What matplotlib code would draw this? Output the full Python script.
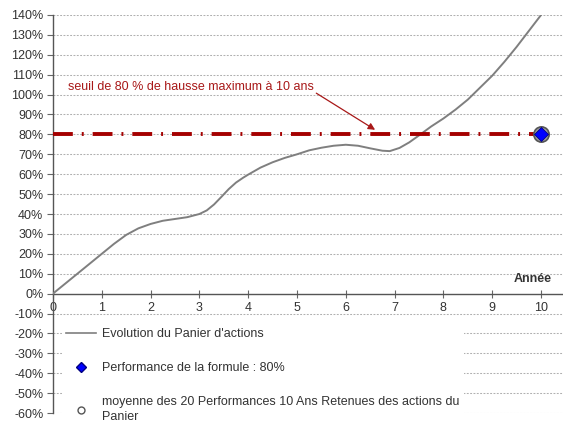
import matplotlib
matplotlib.use("Agg")
import matplotlib.pyplot as plt
from matplotlib.ticker import FuncFormatter
from matplotlib.lines import Line2D

plt.rcParams['font.family'] = ['Liberation Sans', 'DejaVu Sans']

# Data
years = [0, 0.5, 1, 1.25, 1.5, 1.75, 2, 2.25, 2.5, 2.75, 3, 3.15, 3.3, 3.45, 3.6,
         3.75, 3.9, 4, 4.25, 4.5, 4.75, 5, 5.25, 5.5, 5.75, 6, 6.25, 6.5, 6.75,
         6.9, 7.1, 7.3, 7.5, 7.75, 8, 8.25, 8.5, 8.75, 9, 9.25, 9.5, 9.75, 10]
panier = [0, 10, 20, 25, 29.5, 32.8, 35, 36.6, 37.5, 38.4, 40, 41.8, 44.8, 48.6, 52.5,
          55.8, 58.3, 59.8, 63.3, 66, 68.2, 70, 72, 73.3, 74.3, 74.8, 74.3, 73, 71.8,
          71.6, 73.2, 76, 79.5, 84, 88, 92.5, 97.5, 103.5, 109.5, 116.5, 124, 132, 140]
seuil_x = [0, 10]
seuil_y = [80, 80]
perf_x = [10]
perf_y = [80]
moy_x = [10]
moy_y = [80]
yticks = list(range(-60, 141, 10))
xticks = list(range(0, 11))

label_line = "Evolution du Panier d'actions"
label_perf = "Performance de la formule : 80%"
label_moy = "moyenne des 20 Performances 10 Ans Retenues des actions du\nPanier"
annot = "seuil de 80 % de hausse maximum à 10 ans"

fig = plt.figure(figsize=(5.63, 4.23), dpi=100)
ax = fig.add_axes([53/563, 10/423, 510/563, 398/423])
ax.set_xlim(0, 10.45)
ax.set_ylim(-60, 140)

txtc = '#333333'
red = '#a81818'
ax.set_yticks(yticks)
ax.yaxis.grid(True, color='#b0b0b0', linestyle=(0, (1.8, 1.4)), linewidth=0.75)
ax.set_axisbelow(True)
ax.yaxis.set_major_formatter(FuncFormatter(lambda v, p: f"{int(round(v))}%"))
ax.tick_params(axis='y', direction='out', length=4, width=0.8, color='#666666',
               labelsize=9, labelcolor=txtc, pad=3)

ax.set_xticks(xticks)
ax.tick_params(axis='x', direction='inout', length=6, width=0.8, color='#666666',
               labelsize=9, labelcolor=txtc, pad=3)

for s in ['top', 'right']:
    ax.spines[s].set_visible(False)
ax.spines['bottom'].set_position(('data', 0))
for s in ['bottom', 'left']:
    ax.spines[s].set_color('#555555')
    ax.spines[s].set_linewidth(1.0)

ax.plot(years, panier, color='#7f7f7f', lw=1.4, zorder=3)
ax.plot(seuil_x, seuil_y, color='#a50000', lw=2.8, dashes=(5.1, 2.3, 0.5, 2.3),
        solid_capstyle='butt', dash_capstyle='butt', zorder=4)
ax.plot(moy_x, moy_y, 'o', ms=11, mfc='#a0a0a0', mec='#555555', mew=1.2,
        zorder=5, clip_on=False)
ax.plot(perf_x, perf_y, 'D', ms=7, mfc='#0000ff', mec='#000080', mew=0.6,
        zorder=6, clip_on=False)

ax.annotate(annot, xy=(6.6, 82.3), xytext=(0.3, 104), color=red, fontsize=9,
            va='center', ha='left',
            arrowprops=dict(arrowstyle='-|>', color=red, lw=0.9,
                            mutation_scale=10, shrinkA=0, shrinkB=0,
                            relpos=(1.0, 0.1)))

ax.text(10.22, 4.5, "Année", fontsize=9, fontweight='bold', color=txtc,
        ha='right', va='bottom')

h_line = Line2D([], [], color='#7f7f7f', lw=1.2)
h_perf = Line2D([], [], marker='D', ls='none', ms=5, mfc='#0000ff', mec='#000080')
h_moy = Line2D([], [], marker='o', ls='none', ms=5, mfc='white', mec='#555555')
leg = ax.legend([h_line, h_perf, h_moy], [label_line, label_perf, label_moy],
                loc='upper left', bbox_to_anchor=(0.005, 0.24), frameon=True,
                fancybox=False, framealpha=1, edgecolor='none', facecolor='white',
                fontsize=9, labelspacing=1.75, handlelength=2.4, handletextpad=0.5,
                borderpad=0.35, labelcolor=txtc)
for t in leg.get_texts():
    t.set_linespacing(1.35)
leg.set_zorder(7)
leg.get_frame().set_linewidth(0)

fig.savefig("out.png", dpi=100)
